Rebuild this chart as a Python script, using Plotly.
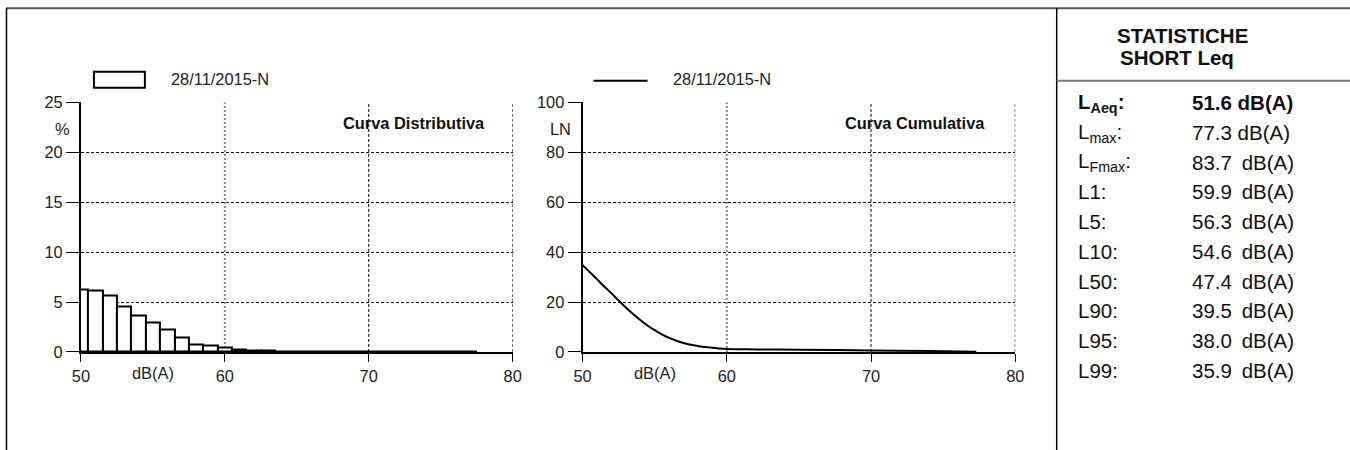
import plotly.graph_objects as go

# reference frame in pixels; the graph div itself is slightly larger
W, H = 1350, 450
DIV_W, DIV_H = 1367, 467
FONT = "Liberation Sans, Arial, sans-serif"

# Distribution: percentage of time in each 1 dB class (class centre in dB(A))
dist_level = list(range(50, 78))
dist_pct = [6.3, 6.15, 5.7, 4.55, 3.65, 2.95, 2.2, 1.45, 0.75, 0.6,
            0.4, 0.2, 0.15, 0.1, 0.08, 0.05, 0.04, 0.04, 0.03, 0.03,
            0.03, 0.03, 0.02, 0.02, 0.02, 0.02, 0.02, 0.02]

# Cumulative curve: LN (% of time the level is exceeded)
cum_level = [50, 50.5, 51, 51.5, 52, 52.5, 53, 53.5, 54, 54.5, 55, 55.5, 56,
             56.5, 57, 57.5, 58, 58.5, 59, 59.5, 60, 61, 62, 65, 70, 74, 77.3]
cum_ln = [34.8, 32.0, 29.2, 26.2, 23.5, 20.6, 17.8, 15.2, 12.8, 10.6, 8.7, 7.0,
          5.6, 4.5, 3.6, 2.9, 2.4, 2.0, 1.65, 1.35, 1.15, 1.05, 1.0, 0.85, 0.6, 0.4, 0.05]

series_name = "28/11/2015-N"

# Short Leq statistics panel
stat_labels = ["L<sub>Aeq</sub>:", "L<sub>max</sub>:", "L<sub>Fmax</sub>:", "L1:", "L5:",
               "L10:", "L50:", "L90:", "L95:", "L99:"]
stat_values = ["51.6", "77.3", "83.7", "59.9", "56.3", "54.6", "47.4", "39.5", "38.0", "35.9"]
stat_unit = "dB(A)"

x_ticks = [50, 60, 70, 80]


def px(x):
    return x / W


def py(y):
    return 1 - y / H


fig = go.Figure()

fig.add_trace(go.Bar(
    x=dist_level, y=dist_pct, width=1,
    marker=dict(color="white", line=dict(color="black", width=2)),
    xaxis="x", yaxis="y", showlegend=False, hoverinfo="skip",
))

fig.add_trace(go.Scatter(
    x=cum_level, y=cum_ln, mode="lines",
    line=dict(color="black", width=2, shape="spline", smoothing=0.5),
    xaxis="x2", yaxis="y2", showlegend=False, hoverinfo="skip",
))

xcommon = dict(
    range=[50, 80], tickvals=x_ticks, ticks="outside", ticklen=8, tickwidth=1,
    tickcolor="black", showline=True, linecolor="black", linewidth=2,
    showgrid=False, zeroline=False, tickfont=dict(size=16.4, color="#222", family=FONT),
    fixedrange=True,
)
ycommon = dict(
    ticks="outside", ticklen=13, tickwidth=1, tickcolor="black",
    showline=True, linecolor="black", linewidth=2,
    showgrid=True, gridcolor="black", gridwidth=1, griddash="3px,2px",
    zeroline=False, tickfont=dict(size=16.4, color="#222", family=FONT),
    fixedrange=True,
)

y_dom = [py(351.7), py(101.7)]
fig.update_layout(
    autosize=True,
    margin=dict(l=0, r=0, t=0, b=0),
    paper_bgcolor="white", plot_bgcolor="white",
    showlegend=False,
    bargap=0,
    xaxis=dict(domain=[px(80), px(512)], anchor="y", **xcommon),
    yaxis=dict(domain=y_dom, anchor="x", range=[0, 25], dtick=5, **ycommon),
    xaxis2=dict(domain=[px(582), px(1015)], anchor="y2", **xcommon),
    yaxis2=dict(domain=y_dom, anchor="x2", range=[0, 100], dtick=20, **ycommon),
)

shapes = []
# vertical grid lines of both charts
for xa, ya in (("x", "y"), ("x2", "y2")):
    shapes.append(dict(type="line", xref=xa, yref=ya + " domain", x0=60, x1=60, y0=0, y1=1,
                       line=dict(color="#8a8a8a", width=2, dash="2px,2px"), layer="below"))
    for xv in (70, 80):
        shapes.append(dict(type="line", xref=xa, yref=ya + " domain", x0=xv, x1=xv, y0=0, y1=1,
                           line=dict(color="black", width=1, dash="3px,2px"), layer="below"))

# legend swatches
shapes.append(dict(type="rect", xref="paper", yref="paper",
                   x0=px(93), x1=px(144), y0=py(87), y1=py(71),
                   line=dict(color="black", width=2), fillcolor="white"))
shapes.append(dict(type="line", xref="paper", yref="paper",
                   x0=px(593), x1=px(647), y0=py(80), y1=py(80),
                   line=dict(color="black", width=2)))

# page frame and statistics panel dividers
shapes.append(dict(type="line", xref="paper", yref="paper", x0=px(5), x1=1, y0=py(7.3), y1=py(7.3),
                   line=dict(color="#555", width=2)))
shapes.append(dict(type="line", xref="paper", yref="paper", x0=px(5.5), x1=px(5.5), y0=0, y1=py(7.3),
                   line=dict(color="black", width=1.5)))
shapes.append(dict(type="line", xref="paper", yref="paper", x0=px(1056.5), x1=px(1056.5), y0=0, y1=py(7.3),
                   line=dict(color="black", width=1.5)))
shapes.append(dict(type="line", xref="paper", yref="paper", x0=px(1056.5), x1=1, y0=py(80), y1=py(80),
                   line=dict(color="#777", width=2)))

annotations = []


def text(x, y, s, size=16.4, bold=False, xanchor="left", color="#222"):
    annotations.append(dict(
        xref="paper", yref="paper", x=px(x), y=py(y), text=f"<b>{s}</b>" if bold else s,
        showarrow=False, xanchor=xanchor, yanchor="middle",
        font=dict(size=size, family=FONT, color=color),
    ))


text(168, 78, series_name)
text(670, 78, series_name)
text(61.5, 128, "%", xanchor="center")
text(559.5, 128, "LN", xanchor="center")
text(152, 373, "dB(A)", xanchor="center")
text(654, 373, "dB(A)", xanchor="center")
text(486, 122, "Curva Distributiva", bold=True, xanchor="right", color="#111")
text(987, 122, "Curva Cumulativa", bold=True, xanchor="right", color="#111")

text(1182, 35, "STATISTICHE", size=20.5, bold=True, xanchor="center", color="#111")
text(1177, 57, "SHORT Leq", size=20.5, bold=True, xanchor="center", color="#111")

for i, (lab, val) in enumerate(zip(stat_labels, stat_values)):
    y = 102 + i * 29.8
    bold = i == 0
    sep = " " if i < 2 else "\u00a0\u2009"
    text(1076, y, lab, size=20.5, bold=bold, color="#111")
    text(1190, y, f"{val}{sep}{stat_unit}", size=20.5, bold=bold, color="#111")

fig.update_layout(shapes=shapes, annotations=annotations)

# graph div sized to the captured area, cancelling the page's default body margin
fig.write_html(
    "out.html",
    default_width=f"{DIV_W}px; margin:-8px",
    default_height=f"{DIV_H}px",
)
